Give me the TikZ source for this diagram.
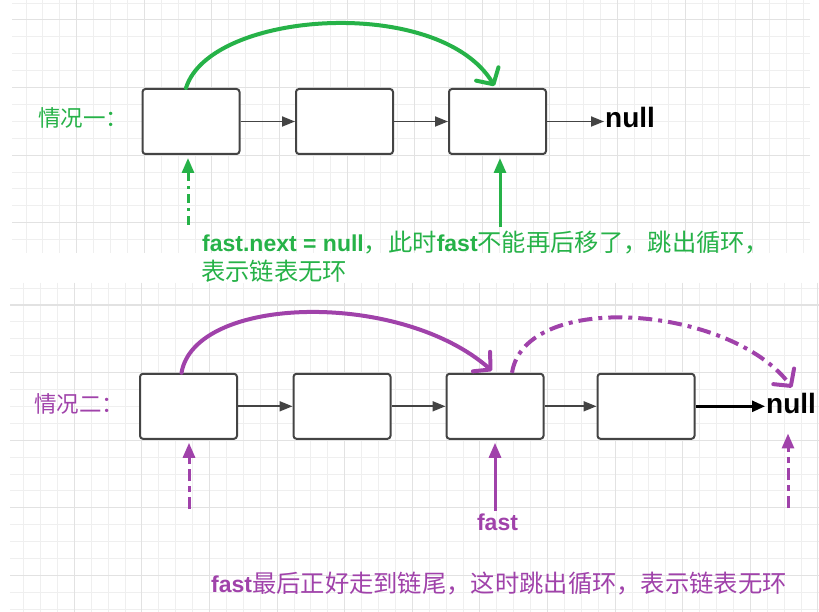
\documentclass[tikz,border=0pt]{standalone}
\usepackage{fontspec}
\newfontfamily\cjk{Noto Sans CJK SC}
\newfontfamily\lat{Liberation Sans}
\usetikzlibrary{arrows.meta}
\definecolor{gridminor}{RGB}{239,239,239}
\definecolor{gridmajor}{RGB}{226,226,226}
\definecolor{grn}{RGB}{38,178,72}
\definecolor{pur}{RGB}{160,66,170}
\definecolor{boxline}{RGB}{68,68,68}
\newcommand{\cjkt}[1]{{\cjk\fontsize{24.3}{28}\selectfont #1}}
\newcommand{\latt}[1]{{\lat\bfseries\fontsize{23}{28}\selectfont #1}}
\begin{document}
\begin{tikzpicture}[x=1pt,y=-1pt,
 box/.style={draw=boxline, line width=2pt, fill=white, rounded corners=3pt,
   minimum width=97pt, minimum height=65pt, inner sep=0pt},
 link/.style={draw=boxline, line width=1.8pt, -{Triangle[length=13pt,width=10pt]}},
 blink/.style={draw=black, line width=2.6pt, -{Triangle[length=13pt,width=11pt]}},
 gsolid/.style={draw=grn, line width=4pt, line cap=round,
   -{Straight Barb[round,length=12pt,width=26pt]}},
 psolid/.style={draw=pur, line width=4pt, line cap=round,
   -{Straight Barb[round,length=12pt,width=26pt]}},
 pdashc/.style={draw=pur, line width=4pt,
   dash pattern=on 14pt off 6pt on 4pt off 6pt,
   -{Straight Barb[round,length=12pt,width=26pt]}},
 gup/.style={draw=grn, line width=3pt, -{Triangle[length=15pt,width=12pt]}},
 pup/.style={draw=pur, line width=3pt, -{Triangle[length=15pt,width=12pt]}},
 gupd/.style={gup, dash pattern=on 9pt off 5pt on 3pt off 5pt},
 pupd/.style={pup, dash pattern=on 12pt off 5pt on 6pt off 5pt},
 nulltxt/.style={font=\lat\bfseries\fontsize{28}{32}\selectfont, inner sep=1pt, anchor=base west},
 txt/.style={inner sep=0pt, anchor=base west},
 title/.style={font=\cjk\fontsize{22.5}{26}\selectfont, inner sep=0pt, anchor=base west}
]
\useasboundingbox (0,0) rectangle (819,612);
\fill[white] (0,0) rectangle (819,612);
% ---- top grid
\begin{scope}
\clip (12,0) rectangle (810,253);
\foreach \i in {0,...,48} \draw[gridminor, line width=1pt] ({9.1+16.9*\i},0) -- ++(0,253);
\foreach \j in {-1,...,15} \draw[gridminor, line width=1pt] (12,{20+16.9*\j}) -- ++(798,0);
\foreach \i in {0,...,12} \draw[gridmajor, line width=1pt] ({9.1+67.6*\i},0) -- ++(0,253);
\foreach \j in {0,...,3} \draw[gridmajor, line width=1pt] (12,{20+67.6*\j}) -- ++(798,0);
\end{scope}
% ---- bottom grid
\begin{scope}
\clip (10,283) rectangle (819,612);
\foreach \i in {0,...,48} \draw[gridminor, line width=1pt] ({6.7+16.9*\i},283) -- ++(0,329);
\foreach \j in {0,...,20} \draw[gridminor, line width=1pt] (10,{288.1+16.9*\j}) -- ++(809,0);
\foreach \i in {0,...,12} \draw[gridmajor, line width=1pt] ({6.7+67.6*\i},283) -- ++(0,329);
\foreach \j in {0,...,4} \draw[gridmajor, line width=1pt] (10,{305+67.6*\j}) -- ++(809,0);
\end{scope}

% ================= case 1
\node[title, text=grn] (title1) at (38,127) {情况一：};
\node[box] (a1) at (191,121.5) {};
\node[box] (a2) at (344.5,121.5) {};
\node[box] (a3) at (497.5,121.5) {};
\node[nulltxt] (nullA) at (604,128) {null};
\draw[link] (a1) -- (a2);
\draw[link] (a2) -- (a3);
\draw[link] (a3.east) -- (a3.east -| nullA.west);
\draw[gsolid] ([xshift=-5pt]a1.north) .. controls (210,10) and (440,-5) .. ([xshift=-3pt,yshift=2pt]a3.north);
\coordinate (g1) at (188,225);
\coordinate (g2) at (500,227);
\draw[gupd, shorten >=3pt] (g1) -- (g1 |- a1.south);
\draw[gup, shorten >=3pt] (g2) -- (g2 |- a3.south);
\node[txt, text=grn] (t1) at (202,252) {\latt{fast.next = null}\cjkt{，此时}\latt{fast}\cjkt{不能再后移了，跳出循环，}};
\node[txt, text=grn] (t2) at (201,280) {\cjkt{表示链表无环}};

% ================= case 2
\node[title, text=pur] (title2) at (34,412) {情况二：};
\node[box] (b1) at (188.5,406.3) {};
\node[box] (b2) at (342,406.3) {};
\node[box] (b3) at (495,406.3) {};
\node[box] (b4) at (646,406.3) {};
\node[nulltxt] (nullB) at (765,413) {null};
\draw[link] (b1) -- (b2);
\draw[link] (b2) -- (b3);
\draw[link] (b3) -- (b4);
\draw[blink] (b4.east) -- (b4.east -| nullB.west);
\draw[psolid] ([xshift=-7pt]b1.north) .. controls (195,295) and (400,290) .. ([xshift=-3pt,yshift=2pt]b3.north);
\draw[pdashc] ([xshift=17pt]b3.north) .. controls (525,290) and (730,305) .. ([xshift=1pt,yshift=4pt]nullB.north);
\coordinate (p1) at (189,509);
\coordinate (p3) at (788,508);
\node[txt, font=\lat\bfseries\fontsize{23}{27}\selectfont, text=pur, anchor=base, inner sep=2pt] (fastB) at (497.5,530) {fast};
\draw[pupd, shorten >=3pt] (p1) -- (p1 |- b1.south);
\draw[pup, shorten >=3pt] (fastB.north -| b3.south) -- (b3.south);
\draw[pupd] (p3) -- ([yshift=-19pt]p3 |- nullB.south);
\node[txt, text=pur] (t3) at (211,592) {\latt{fast}\cjkt{最后正好走到链尾，这时跳出循环，表示链表无环}};
\end{tikzpicture}
\end{document}
